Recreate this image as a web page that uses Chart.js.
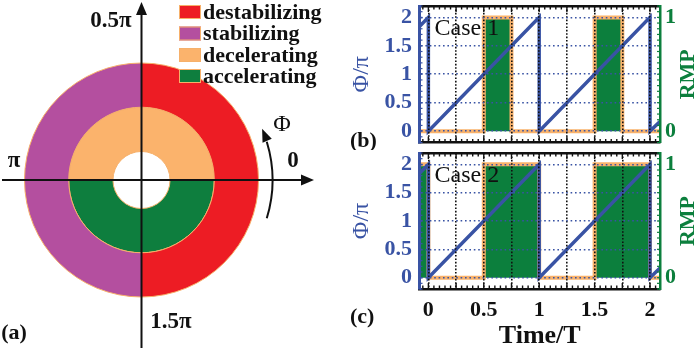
<!DOCTYPE html>
<html><head><meta charset="utf-8">
<script src="https://cdn.jsdelivr.net/npm/chart.js@4"></script>
<style>
html,body{margin:0;padding:0;background:#fff;width:700px;height:350px;overflow:hidden;}
canvas{position:absolute;display:block;}
</style></head><body>
<canvas id="ca" width="340" height="350" style="left:0;top:0"></canvas>
<canvas id="cb" width="360" height="150" style="left:340px;top:0"></canvas>
<canvas id="cc" width="360" height="200" style="left:340px;top:150px"></canvas>
<script>
// ---------- data ----------
const regionLabels = ['destabilizing', 'stabilizing', 'decelerating', 'accelerating'];
const regionColors = ['#ed1c24', '#b44f9f', '#fbb36c', '#0e7e3e'];
const outerRing = [1, 1, 0, 0];   // right half destabilizing, left half stabilizing
const innerRing = [0, 0, 1, 1];   // top half decelerating, bottom half accelerating
const phaseLabels = ['0.5π', 'π', '0', '1.5π'];

const timeT      = [-0.08, 0, 0, 1, 1, 2, 2, 2.09];
const phiOverPi  = [1.84, 2, 0, 2, 0, 2, 0, 0.17];

const rmpTime1 = [-0.08, 0.5, 0.5, 0.75, 0.75, 1.5, 1.5, 1.75, 1.75, 2.09];
const rmpCase1 = [0, 0, 1, 1, 0, 0, 1, 1, 0, 0];
const rmpTime2 = [-0.08, 0, 0, 0.5, 0.5, 1, 1, 1.5, 1.5, 2, 2, 2.09];
const rmpCase2 = [1, 1, 0, 0, 1, 1, 0, 0, 1, 1, 0, 0];

const xTickValues = [0, 0.5, 1, 1.5, 2];

// ---------- style ----------
const SERIF = "'Liberation Serif','Times New Roman',serif";
Chart.defaults.font.family = SERIF;
const BLUE = '#3953a4', GREEN = '#0c7f3d', ORANGE = '#f9b26b';

function line(ctx, x1, y1, x2, y2) { ctx.beginPath(); ctx.moveTo(x1, y1); ctx.lineTo(x2, y2); ctx.stroke(); }

// ---------- panel (a) ----------
const decoA = {
  id: 'decoA',
  afterDraw(chart) {
    const ctx = chart.ctx;
    const arc = chart.getDatasetMeta(0).data[0];
    const cx = arc.x, cy = arc.y;
    ctx.save();
    ctx.strokeStyle = '#111'; ctx.fillStyle = '#111'; ctx.lineWidth = 2;
    line(ctx, 2, cy, 303, cy);
    ctx.beginPath(); ctx.moveTo(314, cy); ctx.lineTo(301, cy - 5.5); ctx.lineTo(301, cy + 5.5); ctx.closePath(); ctx.fill();
    line(ctx, cx, 348, cx, 13);
    ctx.beginPath(); ctx.moveTo(cx, 2); ctx.lineTo(cx - 5.5, 15); ctx.lineTo(cx + 5.5, 15); ctx.closePath(); ctx.fill();
    const R = 131, a1 = 17 * Math.PI / 180, a2 = -17 * Math.PI / 180;
    ctx.beginPath(); ctx.arc(cx, cy, R, a1, a2, true); ctx.stroke();
    const th = 23 * Math.PI / 180;
    const tx = cx + R * Math.cos(th), ty = cy - R * Math.sin(th);
    const dx = -Math.sin(th), dy = -Math.cos(th);
    const bx = tx - dx * 13, by = ty - dy * 13;
    ctx.beginPath(); ctx.moveTo(tx, ty); ctx.lineTo(bx - dy * 5, by + dx * 5); ctx.lineTo(bx + dy * 5, by - dx * 5); ctx.closePath(); ctx.fill();
    ctx.textAlign = 'center'; ctx.textBaseline = 'middle';
    ctx.font = 'bold 23px ' + SERIF;
    ctx.fillText(phaseLabels[0], 111, 21);
    ctx.fillText(phaseLabels[1], 14, 161);
    ctx.fillText(phaseLabels[2], 293, 161);
    ctx.fillText(phaseLabels[3], 171, 322);
    ctx.font = '24px ' + SERIF;
    ctx.fillText('Φ', 282, 125);
    ctx.font = 'bold 22px ' + SERIF;
    ctx.fillText('(a)', 14, 333);
    const rows = [12, 33.5, 55, 76];
    ctx.textAlign = 'left';
    regionLabels.forEach((lab, i) => {
      ctx.fillStyle = regionColors[i];
      ctx.fillRect(179, rows[i] - 7, 22, 14);
      ctx.strokeStyle = '#f6b06a'; ctx.lineWidth = 1;
      ctx.strokeRect(179.5, rows[i] - 6.5, 21, 13);
      ctx.fillStyle = '#111';
      ctx.font = 'bold 22px ' + SERIF;
      ctx.fillText(lab, 203, rows[i] + 1);
    });
    ctx.restore();
  }
};

new Chart(document.getElementById('ca'), {
  type: 'doughnut',
  data: {
    labels: regionLabels,
    datasets: [
      { data: outerRing, backgroundColor: regionColors, borderColor: '#f6b06a', borderWidth: [1, 1, 0, 0], rotation: 0 },
      { data: innerRing, backgroundColor: regionColors, borderColor: '#f6b06a', borderWidth: [0, 0, 1, 1], rotation: -90 }
    ]
  },
  options: {
    responsive: false, animation: false, events: [],
    cutout: '24.4%',
    layout: { padding: { left: 24, right: 81, top: 62.5, bottom: 52.5 } },
    plugins: { legend: { display: false }, tooltip: { enabled: false } }
  },
  plugins: [decoA]
});

// ---------- panels (b), (c) ----------
function toXY(xs, ys) { return xs.map((x, i) => ({ x: x, y: ys[i] })); }

function makeDeco(caseText, panelText, panelY) {
  return {
    id: 'deco' + panelText.replace(/\W/g, ''),
    afterDraw(chart) {
      const ctx = chart.ctx, a = chart.chartArea;
      const sx = chart.scales.x, sy = chart.scales.y, sy2 = chart.scales.y2;
      ctx.save();
      ctx.strokeStyle = '#111'; ctx.lineWidth = 1.4;
      for (let k = -1; k <= 42; k++) {
        const v = k * 0.05;
        if (v < sx.min || v > sx.max) continue;
        const px = sx.getPixelForValue(v);
        const L = (k % 5 === 0) ? 6 : 3.5;
        line(ctx, px, a.bottom, px, a.bottom - L);
        line(ctx, px, a.top, px, a.top + L);
      }
      ctx.strokeStyle = BLUE; ctx.lineWidth = 1.2;
      for (let k = -2; k <= 22; k++) {
        const py = sy.getPixelForValue(k * 0.1);
        line(ctx, a.left, py, a.left + 3, py);
      }
      ctx.strokeStyle = GREEN;
      for (let k = -2; k <= 22; k++) {
        const py = sy2.getPixelForValue(k * 0.05);
        line(ctx, a.right, py, a.right - 3, py);
      }
      ctx.fillStyle = '#111'; ctx.textBaseline = 'middle'; ctx.textAlign = 'left';
      ctx.font = '24px ' + SERIF;
      ctx.fillText(caseText, a.left + 15, a.top + 23);
      ctx.font = 'bold 22px ' + SERIF;
      ctx.fillText(panelText, 10, panelY);
      ctx.translate(348, (a.top + a.bottom) / 2);
      ctx.rotate(-Math.PI / 2);
      ctx.textAlign = 'center'; ctx.fillStyle = GREEN;
      ctx.font = 'bold 22px ' + SERIF;
      ctx.fillText('RMP', 0, 0);
      ctx.restore();
    }
  };
}

function makePanel(canvasId, rmpT, rmpV, caseText, panelText, panelY, showX, topH, bottomH) {
  new Chart(document.getElementById(canvasId), {
    type: 'line',
    data: {
      datasets: [
        { data: toXY(timeT, phiOverPi), yAxisID: 'y', xAxisID: 'x', borderColor: BLUE, borderWidth: 3.5,
          pointRadius: 0, tension: 0, fill: false, borderJoinStyle: 'miter' },
        { data: toXY(rmpT, rmpV), yAxisID: 'y2', xAxisID: 'x', borderColor: ORANGE, borderWidth: 4,
          backgroundColor: GREEN, pointRadius: 0, tension: 0, fill: 'origin' }
      ]
    },
    options: {
      responsive: false, animation: false, events: [],
      layout: { padding: 0, autoPadding: false },
      plugins: { legend: { display: false }, tooltip: { enabled: false } },
      scales: {
        x: {
          type: 'linear', position: 'bottom', min: -0.08, max: 2.09,
          ticks: {
            display: showX, stepSize: 0.25, includeBounds: false, autoSkip: false, maxRotation: 0,
            padding: 8, color: '#111', font: { size: 22, weight: 'bold' },
            callback: v => xTickValues.includes(v) ? String(v) : ''
          },
          grid: { color: '#111', lineWidth: 1.6, drawTicks: false, z: 1 },
          border: { display: true, color: '#111', width: 2.5, dash: [1.6, 1.8], z: 2 },
          title: { display: showX, text: 'Time/T', color: '#111', font: { size: 26, weight: 'bold' }, padding: { top: 0, bottom: -2 } },
          afterFit: s => { s.height = bottomH; s.paddingLeft = 0; s.paddingRight = 0; }
        },
        xt: {
          type: 'linear', position: 'top', min: -0.08, max: 2.09,
          ticks: { display: false }, grid: { display: false, drawTicks: false },
          border: { display: true, color: '#111', width: 2.5, z: 2 },
          afterFit: s => { s.height = topH; s.paddingLeft = 0; s.paddingRight = 0; }
        },
        y: {
          type: 'linear', position: 'left', min: -0.2, max: 2.2,
          ticks: { stepSize: 0.5, includeBounds: false, padding: 7.5, color: BLUE, font: { size: 22, weight: 'bold' },
                   callback: v => String(v) },
          grid: { color: BLUE, lineWidth: 1.6, drawTicks: false, z: 1 },
          border: { display: true, color: BLUE, width: 3, dash: [1.6, 2.8], z: 2 },
          title: { display: true, text: 'Φ/π', color: BLUE, font: { size: 24 }, padding: { top: 7.6, bottom: 0 } },
          afterFit: s => { s.width = 79.5; s.paddingTop = 0; s.paddingBottom = 0; }
        },
        y2: {
          type: 'linear', position: 'right', min: -0.1, max: 1.1,
          ticks: { stepSize: 1, includeBounds: false, padding: 5, color: GREEN, font: { size: 22, weight: 'bold' },
                   callback: v => String(v) },
          grid: { drawOnChartArea: false, drawTicks: false },
          border: { display: true, color: GREEN, width: 2.5, z: 2 },
          afterFit: s => { s.width = 40; s.paddingTop = 0; s.paddingBottom = 0; }
        }
      }
    },
    plugins: [makeDeco(caseText, panelText, panelY)]
  });
}

makePanel('cb', rmpTime1, rmpCase1, 'Case 1', '(b)', 141, false, 6, 7.5);
makePanel('cc', rmpTime2, rmpCase2, 'Case 2', '(c)', 167, true, 3, 61);
</script>
</body></html>
